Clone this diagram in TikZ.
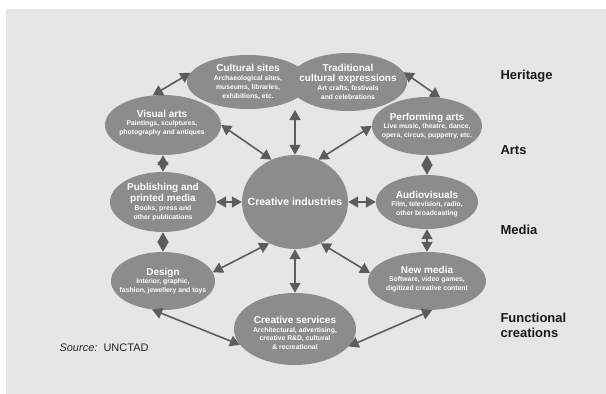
\documentclass[tikz,border=0pt]{standalone}
\usepackage{fontspec}
\setmainfont{Liberation Sans}
\usepackage{xcolor}
\usetikzlibrary{shapes.geometric,arrows.meta}
\definecolor{panel}{HTML}{E6E6E6}
\definecolor{blob}{HTML}{8C8C8C}
\definecolor{arrgray}{HTML}{5C5C5C}
\newcommand{\areatitle}[1]{{\fontsize{10}{11}\selectfont #1}}

\begin{document}
\begin{tikzpicture}[x=1pt,y=-1pt,
  area/.style={ellipse,fill=blob,inner sep=0pt},
  areatext/.style={text=white,inner sep=0pt,align=center,font=\bfseries\fontsize{6.8}{8.8}\selectfont},
  arr/.style={draw=arrgray,line width=1.6pt,{Triangle[length=10pt,width=11pt]}-{Triangle[length=10pt,width=11pt]}},
  group/.style={anchor=west,align=left,text=black!90,font=\bfseries\fontsize{13}{15}\selectfont}]
\useasboundingbox (0,0) rectangle (606,394);
\fill[white] (0,0) rectangle (606,394);
\fill[panel] (6,9) rectangle (606,394);
%\draw[red] (0,0) grid[step=50] (606,394);
\node[area,minimum width=122pt,minimum height=54pt] (cult) at (248,82) {};
\node[areatext] (cult-t) at (cult) {\areatitle{Cultural sites}\\Archaeological sites,\\museums, libraries,\\exhibitions, etc.};
\node[area,minimum width=118pt,minimum height=58pt] (trad) at (348,82) {};
\node[areatext] (trad-t) at (trad) {\areatitle{Traditional}\\[1pt]\areatitle{cultural expressions}\\Art crafts, festivals\\and celebrations};
\node[area,minimum width=116pt,minimum height=60pt] (visual) at (163,125) {};
\node[areatext] (visual-t) at (162,123) {\areatitle{Visual arts}\\Paintings, sculptures,\\photography and antiques};
\node[area,minimum width=110pt,minimum height=58pt] (perf) at (427,126) {};
\node[areatext] (perf-t) at (perf) {\areatitle{Performing arts}\\Live music, theatre, dance,\\opera, circus, puppetry, etc.};
\node[area,minimum width=106pt,minimum height=94pt] (core) at (295,202) {};
\node[areatext,font=\bfseries\fontsize{10.5}{12}\selectfont] (core-t) at (core) {Creative industries};
\node[area,minimum width=106pt,minimum height=60pt] (publ) at (163,202) {};
\node[areatext] (publ-t) at (publ) {\areatitle{Publishing and}\\[1pt]\areatitle{printed media}\\Books, press and\\other publications};
\node[area,minimum width=102pt,minimum height=54pt] (audio) at (427,202) {};
\node[areatext] (audio-t) at (427,204) {\areatitle{Audiovisuals}\\Film, television, radio,\\other broadcasting};
\node[area,minimum width=104pt,minimum height=58pt] (design) at (163,281) {};
\node[areatext] (design-t) at (design) {\areatitle{Design}\\Interior, graphic,\\fashion, jewellery and toys};
\node[area,minimum width=118pt,minimum height=58pt] (newm) at (427,281) {};
\node[areatext] (newm-t) at (427,279) {\areatitle{New media}\\Software, video games,\\digitized creative content};
\node[area,minimum width=122pt,minimum height=72pt] (serv) at (295,329) {};
\node[areatext] (serv-t) at (295,333) {\areatitle{Creative services}\\Architectural, advertising,\\creative R\&D, cultural\\\& recreational};
\coordinate (herit) at (295,110);
\draw[arr] (visual.109) -- (cult.171);
\draw[arr] (trad.10) -- (perf.65);
\draw[arr] (visual.east) -- (core.119);
\draw[arr] (herit) -- (core.north);
\draw[arr] (perf.west) -- (core.61);
\draw[arr] (visual) -- (publ);
\draw[arr] (perf) -- (audio);
\draw[arr] (publ) -- (core);
\draw[arr] (core) -- (audio);
\draw[arr] (publ) -- (design);
\draw[arr] (audio) -- (newm);
\draw[arr] (design.10) -- (core.238);
\draw[arr] (core.302) -- (newm.172);
\draw[arr] (core) -- (serv);
\draw[arr] (design.249) -- (serv.196);
\draw[arr] (serv.342) -- (newm.280);
\node[group] (heritage) at (497,76) {Heritage};
\node[group] (arts) at (497,150) {Arts};
\node[group] (media) at (497,230) {Media};
\node[group] (func) at (497,325) {Functional\\creations};
\node[anchor=west,text=black!85,font=\fontsize{11}{13}\selectfont] (src) at (56,348) {\textit{Source:}\ \ UNCTAD};
\end{tikzpicture}
\end{document}
